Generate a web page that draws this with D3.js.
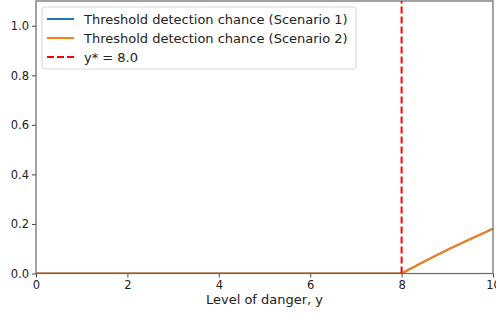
<!DOCTYPE html>
<html>
<head>
<meta charset="utf-8">
<script src="https://cdn.jsdelivr.net/npm/d3@7"></script>
<style>
  body { margin: 0; background: #fff; }
  svg { font-family: "DejaVu Sans", sans-serif; }
</style>
</head>
<body>
<script>
// data
const dangerLevels = [0, 1, 2, 3, 4, 5, 6, 7, 8, 8.5, 9, 9.5, 10];
const chanceScenario1 = [0, 0, 0, 0, 0, 0, 0, 0, 0, 0.049, 0.095, 0.139, 0.181];
const chanceScenario2 = [0, 0, 0, 0, 0, 0, 0, 0, 0, 0.049, 0.095, 0.139, 0.181];
const threshold = 8.0;
const xTicks = [0, 2, 4, 6, 8, 10];
const yTicks = [0.0, 0.2, 0.4, 0.6, 0.8, 1.0];

const w = 496;
const h = 313;
const margin = { top: 1, right: 3, bottom: 39.5, left: 36 };

const svg = d3.select("body")
  .append("svg")
  .attr("width", w)
  .attr("height", h);

const x = d3.scaleLinear()
  .domain([0, 10])
  .range([margin.left, w - margin.right]);

const y = d3.scaleLinear()
  .domain([0, 1.1])
  .range([h - margin.bottom, margin.top]);

// clip so lines stay in the axes
svg.append("clipPath")
  .attr("id", "clip")
  .append("rect")
  .attr("x", margin.left)
  .attr("y", margin.top)
  .attr("width", w - margin.left - margin.right)
  .attr("height", h - margin.top - margin.bottom);

const plot = svg.append("g").attr("clip-path", "url(#clip)");

const line = d3.line()
  .x((d, i) => x(dangerLevels[i]))
  .y((d) => y(d));

plot.append("path")
  .datum(chanceScenario1)
  .attr("d", line)
  .attr("fill", "none")
  .attr("stroke", "#1f77b4")
  .attr("stroke-width", 2);

plot.append("path")
  .datum(chanceScenario2)
  .attr("d", line)
  .attr("fill", "none")
  .attr("stroke", "#ff7f0e")
  .attr("stroke-width", 2);

plot.append("line")
  .attr("x1", x(threshold))
  .attr("x2", x(threshold))
  .attr("y1", y(0))
  .attr("y2", y(1.1))
  .attr("stroke", "red")
  .attr("stroke-width", 2)
  .attr("stroke-dasharray", "7,3");

// axes
const xAxis = svg.append("g")
  .attr("transform", `translate(0,${h - margin.bottom})`)
  .call(d3.axisBottom(x).tickValues(xTicks).tickSize(4).tickPadding(3.5)
    .tickFormat(d3.format("d")));

const yAxis = svg.append("g")
  .attr("transform", `translate(${margin.left},0)`)
  .call(d3.axisLeft(y).tickValues(yTicks).tickSize(4).tickPadding(3)
    .tickFormat(d3.format(".1f")));

[xAxis, yAxis].forEach((g) => {
  g.select(".domain").remove();
  g.selectAll("line").attr("stroke", "#444").attr("stroke-width", 1);
  g.selectAll("text")
    .style("font-size", "11.5px")
    .style("font-family", "DejaVu Sans, sans-serif")
    .attr("fill", "#222");
});

// frame
svg.append("rect")
  .attr("x", margin.left)
  .attr("y", margin.top)
  .attr("width", w - margin.left - margin.right)
  .attr("height", h - margin.top - margin.bottom)
  .attr("fill", "none")
  .attr("stroke", "#666")
  .attr("stroke-width", 1.2);

svg.append("text")
  .attr("x", (margin.left + w - margin.right) / 2)
  .attr("y", 304)
  .attr("text-anchor", "middle")
  .style("font-size", "13px")
  .attr("fill", "#222")
  .text("Level of danger, y");

// legend
const legendItems = [
  { label: "Threshold detection chance (Scenario 1)", color: "#1f77b4", dash: null },
  { label: "Threshold detection chance (Scenario 2)", color: "#ff7f0e", dash: null },
  { label: "y* = " + threshold.toFixed(1), color: "red", dash: "7,3" }
];

const legend = svg.append("g").attr("transform", "translate(42,7)");

legend.append("rect")
  .attr("width", 314)
  .attr("height", 62)
  .attr("rx", 3)
  .attr("fill", "white")
  .attr("fill-opacity", 0.8)
  .attr("stroke", "#d6d6d6");

const item = legend.selectAll(".legend-item")
  .data(legendItems)
  .enter()
  .append("g")
  .attr("class", "legend-item")
  .attr("transform", (d, i) => `translate(0,${12 + i * 19})`);

item.append("line")
  .attr("x1", 5)
  .attr("x2", 32)
  .attr("stroke", (d) => d.color)
  .attr("stroke-width", 2)
  .attr("stroke-dasharray", (d) => d.dash);

item.append("text")
  .attr("x", 42)
  .attr("dy", "0.35em")
  .style("font-size", "13px")
  .attr("fill", "#222")
  .text((d) => d.label);
</script>
</body>
</html>
